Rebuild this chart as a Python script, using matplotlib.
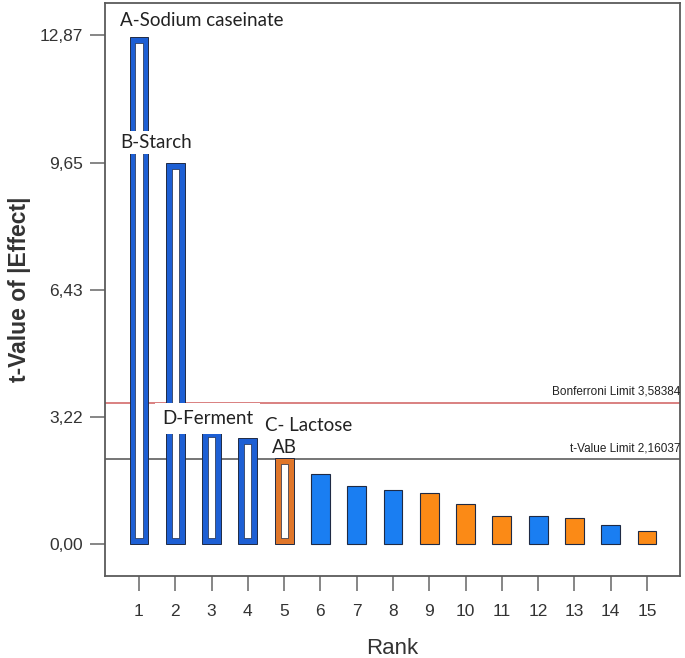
import matplotlib
matplotlib.use("Agg")
import matplotlib.pyplot as plt

plt.rcParams["font.family"] = ["Liberation Sans", "DejaVu Sans"]

# Pareto chart of standardized effects
ranks = list(range(1, 16))
t_values = [12.82, 9.63, 2.86, 2.70, 2.19, 1.77, 1.47, 1.38, 1.31, 1.03, 0.71, 0.71, 0.67, 0.50, 0.35]
signs = ["+", "+", "+", "+", "-", "+", "+", "+", "-", "-", "-", "+", "-", "+", "-"]
hollow = [True, True, True, True, True] + [False] * 10
y_ticks = [0.00, 3.22, 6.43, 9.65, 12.87]
y_tick_labels = ["0,00", "3,22", "6,43", "9,65", "12,87"]
bonferroni = 3.58384
t_limit = 2.16037

blue_fill = "#1a7ef2"
blue_hollow = "#1d5fd4"
orange_fill = "#fb8a16"
orange_hollow = "#e0762a"
edge_dark = "#1f2a44"

fig = plt.figure(figsize=(6.85, 6.58), dpi=100)
ax = fig.add_axes([0.1533, 0.1245, 0.8394, 0.8709])

width = 0.52
for r, v, s, h in zip(ranks, t_values, signs, hollow):
    if h:
        col = blue_hollow if s == "+" else orange_hollow
        ax.bar(r, v, width=width, color=col, edgecolor=edge_dark, linewidth=0.7, zorder=3)
        inset = 0.15
        ax.bar(r, v - 2 * inset, bottom=inset, width=width * 0.38,
               color="white", edgecolor=edge_dark, linewidth=0.5, zorder=4)
    else:
        col = blue_fill if s == "+" else orange_fill
        ax.bar(r, v, width=width, color=col, edgecolor=edge_dark, linewidth=0.8, zorder=3)

ax.axhline(bonferroni, color="#d98080", linewidth=1.4, zorder=2)
ax.axhline(t_limit, color="#6a6a6a", linewidth=1.3, zorder=2)
small = dict(ha="right", va="bottom", fontsize=8.5, color="#222222", zorder=5)
ax.text(15.93, bonferroni + 0.12, "Bonferroni Limit 3,58384", **small)
ax.text(15.93, t_limit + 0.12, "t-Value Limit 2,16037", **small)

lab_font = dict(fontsize=13.5, family="Lato", color="#222222", zorder=6)
box = dict(facecolor="white", edgecolor="none", pad=2)
ax.text(0.48, 13.25, "A-Sodium caseinate", ha="left", va="center", **lab_font)
ax.text(0.48, 10.16, "B-Starch", ha="left", va="center", bbox=box, **lab_font)
ax.text(1.63, 3.19, "D-Ferment", ha="left", va="center",
        bbox=dict(facecolor="white", edgecolor="none", pad=5), **lab_font)
ax.text(4.47, 3.01, "C- Lactose", ha="left", va="center", bbox=box, **lab_font)
ax.text(4.66, 2.45, "AB", ha="left", va="center", **lab_font)

ax.set_xlim(0.064, 15.91)
ax.set_ylim(-0.80, 13.68)
ax.set_xticks(ranks)
ax.set_xticklabels([str(r) for r in ranks])
ax.set_yticks(y_ticks)
ax.set_yticklabels(y_tick_labels)

for sp in ax.spines.values():
    sp.set_color("#5a5a5a")
    sp.set_linewidth(1.3)

ax.tick_params(axis="both", direction="out", length=11, width=1.1, color="#666666",
               labelsize=12.5, labelcolor="#333333", pad=5)
ax.tick_params(axis="x", pad=9)

ax.set_xlabel("Rank", fontsize=16, color="#333333", labelpad=14)
ax.set_ylabel("t-Value of |Effect|", fontsize=16.5, fontweight="bold",
              color="#333333", labelpad=6)

fig.savefig("out.png", dpi=100)
